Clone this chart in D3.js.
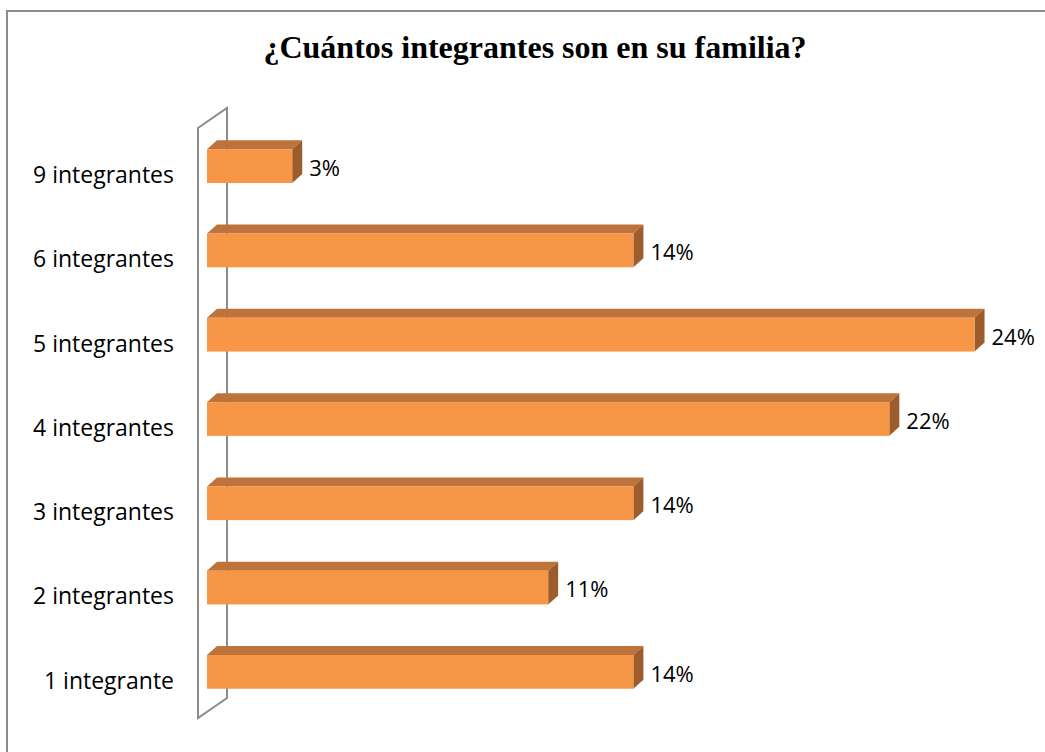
<!DOCTYPE html>
<html>
<head>
<meta charset="utf-8">
<script src="https://cdn.jsdelivr.net/npm/d3@7"></script>
<style>
  body { margin: 0; background: #fff; }
  svg { display: block; }
</style>
</head>
<body>
<div id="vis"></div>
<script>
// data (top to bottom as in the chart)
var categories = ["9 integrantes", "6 integrantes", "5 integrantes", "4 integrantes", "3 integrantes", "2 integrantes", "1 integrante"];
var values = [0.0270, 0.1351, 0.2432, 0.2162, 0.1351, 0.1081, 0.1351];
var title = "¿Cuántos integrantes son en su familia?";

var width = 1045, height = 752;
var depth = {dx: 10, dy: -9};

var svg = d3.select("#vis")
    .append("svg")
    .attr("width", width)
    .attr("height", height);

// outer frame
svg.append("rect")
    .attr("x", 7)
    .attr("y", 11)
    .attr("width", 1200)
    .attr("height", 900)
    .attr("fill", "none")
    .attr("stroke", "#8c8c8c")
    .attr("stroke-width", 2);

svg.append("text")
    .attr("x", 535)
    .attr("y", 58)
    .attr("text-anchor", "middle")
    .attr("font-family", "'Liberation Serif', 'Times New Roman', serif")
    .attr("font-weight", "bold")
    .attr("font-size", 32)
    .attr("fill", "#000")
    .text(title);

var x = d3.scaleLinear()
    .domain([0, 0.25])
    .range([207, 207 + 789]);

var y = d3.scaleBand()
    .domain(categories)
    .range([124, 714])
    .paddingInner(0.6)
    .paddingOuter(0.3);

////////// wall //////////
var wx = x.range()[0] - 9,
    wTop = y.range()[0] + 4,
    wBot = y.range()[1] + 4,
    wdx = 29, wdy = -20;

svg.append("path")
    .attr("d", "M" + wx + "," + wBot +
               "V" + wTop +
               "L" + (wx + wdx) + "," + (wTop + wdy) +
               "V" + (wBot + wdy) +
               "Z")
    .attr("fill", "none")
    .attr("stroke", "#8c8c8c")
    .attr("stroke-width", 2);

////////// bars //////////
var bars = svg.append("g").attr("class", "bars")
  .selectAll("g")
    .data(categories)
    .enter()
    .append("g");

// top face
bars.append("path")
    .attr("fill", "#bd7339")
    .attr("d", function(d, i) {
      var x0 = x(0), x1 = x(values[i]), t = y(d);
      return "M" + x0 + "," + t + "L" + (x0 + depth.dx) + "," + (t + depth.dy) +
             "L" + (x1 + depth.dx) + "," + (t + depth.dy) + "L" + x1 + "," + t + "Z";
    });

// side face
bars.append("path")
    .attr("fill", "#9c5c2b")
    .attr("d", function(d, i) {
      var x1 = x(values[i]), t = y(d), b = y(d) + y.bandwidth();
      return "M" + x1 + "," + t + "L" + (x1 + depth.dx) + "," + (t + depth.dy) +
             "L" + (x1 + depth.dx) + "," + (b + depth.dy) + "L" + x1 + "," + b + "Z";
    });

// front face
bars.append("rect")
    .attr("x", x(0))
    .attr("y", function(d) { return y(d); })
    .attr("width", function(d, i) { return x(values[i]) - x(0); })
    .attr("height", y.bandwidth())
    .attr("fill", "#f79646");

////////// labels //////////
var fontFam = "'Open Sans', 'Noto Sans', sans-serif";

svg.append("g")
  .selectAll("text")
    .data(categories)
    .enter()
    .append("text")
    .attr("x", 174)
    .attr("y", function(d) { return y(d) + y.bandwidth(); })
    .attr("text-anchor", "end")
    .attr("font-family", fontFam)
    .attr("font-size", 23)
    .attr("fill", "#000")
    .text(function(d) { return d; });

var fmt = d3.format(".0%");

svg.append("g")
  .selectAll("text")
    .data(categories)
    .enter()
    .append("text")
    .attr("x", function(d, i) { return x(values[i]) + depth.dx + 7; })
    .attr("y", function(d) { return y(d) + y.bandwidth() - 7; })
    .attr("font-family", fontFam)
    .attr("font-size", 22)
    .attr("fill", "#000")
    .text(function(d, i) { return fmt(values[i]); });
</script>
</body>
</html>
